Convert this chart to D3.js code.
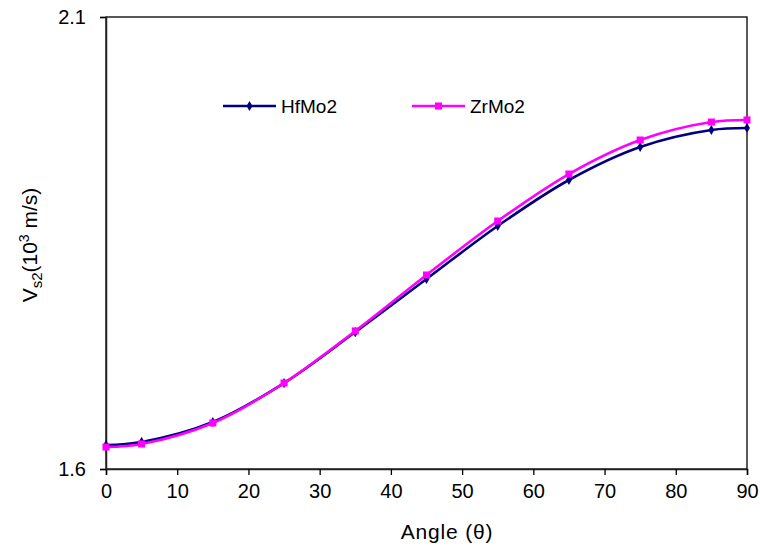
<!DOCTYPE html>
<html><head><meta charset="utf-8">
<script src="https://cdn.jsdelivr.net/npm/d3@7"></script>
<style>body{margin:0;background:#fff}svg{display:block}text{font-family:Arial,"Liberation Sans",sans-serif;fill:#000}</style>
</head><body><svg id="c" width="760" height="557"></svg>
<script>
const angles = [0, 5, 15, 25, 35, 45, 55, 65, 75, 85, 90];
const hfMo2 = [1.6265, 1.6299, 1.652, 1.6951, 1.7515, 1.8102, 1.8688, 1.9197, 1.9562, 1.975, 1.9772];
const zrMo2 = [1.6243, 1.6277, 1.6509, 1.6951, 1.7527, 1.8146, 1.8743, 1.9263, 1.9639, 1.9838, 1.9861];
const xTicks = [0, 10, 20, 30, 40, 50, 60, 70, 80, 90];
const yTicks = [1.6, 2.1];
const seriesNames = ["HfMo2", "ZrMo2"];

const svg = d3.select("#c");
const m = {l:106, r:747, t:17, b:469};
const x = d3.scaleLinear().domain([0, 90]).range([m.l, m.r]);
const y = d3.scaleLinear().domain([1.6, 2.1]).range([m.b, m.t]);

// plot frame
svg.append("rect").attr("x", m.l).attr("y", m.t).attr("width", m.r - m.l).attr("height", m.b - m.t)
  .attr("fill", "none").attr("stroke", "#000").attr("stroke-width", 1.3);

const xAxis = svg.append("g").attr("transform", `translate(0,${m.b})`)
  .call(d3.axisBottom(x).tickValues(xTicks).tickSize(6).tickPadding(9).tickFormat(d3.format("d")));
const yAxis = svg.append("g").attr("transform", `translate(${m.l},0)`)
  .call(d3.axisLeft(y).tickValues(yTicks).tickSize(6).tickPadding(14).tickFormat(d3.format(".1f")));
[xAxis, yAxis].forEach(g => {
  g.select(".domain").attr("stroke", "#222").attr("stroke-width", 1.5);
  g.selectAll(".tick line").attr("stroke", "#000").attr("stroke-width", 1.3);
  g.selectAll("text").attr("font-size", 20).attr("font-family", "Arial, 'Liberation Sans', sans-serif").attr("fill", "#000");
});

const line = d3.line().x(d => x(d[0])).y(d => y(d[1])).curve(d3.curveCatmullRom.alpha(0.5));
const colors = ["#000080", "#FF00FF"];
const data = [hfMo2, zrMo2];

data.forEach((vals, i) => {
  const pts = angles.map((a, k) => [a, vals[k]]);
  svg.append("path").datum(pts).attr("d", line).attr("fill", "none")
    .attr("stroke", colors[i]).attr("stroke-width", 2.6);
});
// markers
const diamond = d3.symbol().type(d3.symbolDiamond).size(30);
const square = d3.symbol().type(d3.symbolSquare).size(50);
data.forEach((vals, i) => {
  svg.append("g").selectAll("path").data(angles.map((a, k) => [a, vals[k]])).join("path")
    .attr("transform", d => `translate(${x(d[0])},${y(d[1])})`)
    .attr("d", i === 0 ? diamond : square).attr("fill", colors[i]);
});

// legend
const legX = [223, 412];
seriesNames.forEach((n, i) => {
  const g = svg.append("g").attr("transform", `translate(${legX[i]},106)`);
  g.append("line").attr("x1", 0).attr("x2", 53).attr("y1", 0).attr("y2", 0)
    .attr("stroke", colors[i]).attr("stroke-width", 2.6);
  g.append("path").attr("transform", "translate(26.5,0)").attr("d", i === 0 ? diamond : square).attr("fill", colors[i]);
  g.append("text").attr("x", 58).attr("y", 7).attr("font-size", 19).text(n);
});

// axis titles
svg.append("text").attr("x", 447).attr("y", 539).attr("text-anchor", "middle").attr("font-size", 21)
  .attr("letter-spacing", 0.8).text("Angle (θ)");
const yl = svg.append("text").attr("transform", "translate(37,245) rotate(-90)").attr("text-anchor", "middle").attr("font-size", 21);
yl.append("tspan").text("V");
yl.append("tspan").attr("font-size", 15).attr("dy", 5).text("s2");
yl.append("tspan").attr("dy", -5).text("(10");
yl.append("tspan").attr("font-size", 14).attr("dy", -8).text("3");
yl.append("tspan").attr("dy", 8).text(" m/s)");
</script></body></html>
